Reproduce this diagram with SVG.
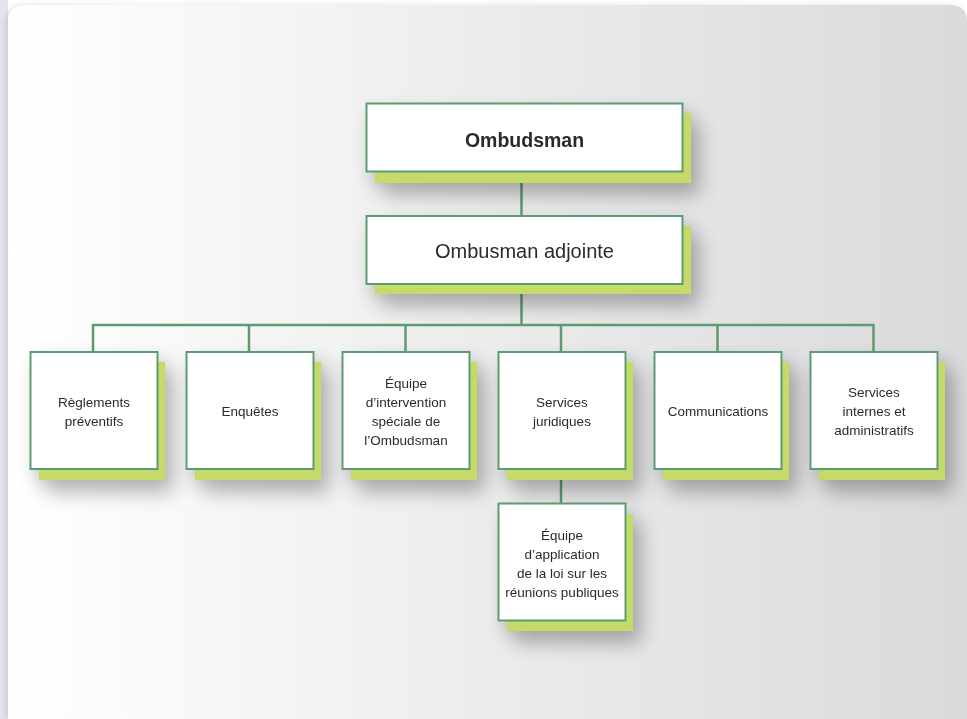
<svg xmlns="http://www.w3.org/2000/svg" width="967" height="719" viewBox="0 0 967 719">
<defs>
<linearGradient id="bg" x1="0" y1="0" x2="1" y2="0">
<stop offset="0" stop-color="#ffffff"/>
<stop offset="0.5" stop-color="#ececed"/>
<stop offset="1" stop-color="#dadadd"/>
</linearGradient>
<filter id="ds" x="-30%" y="-30%" width="170%" height="170%">
<feGaussianBlur in="SourceAlpha" stdDeviation="10"/>
<feOffset dx="8" dy="12"/>
<feComponentTransfer><feFuncA type="linear" slope="0.3"/></feComponentTransfer>
<feMerge><feMergeNode/><feMergeNode in="SourceGraphic"/></feMerge>
</filter>
<filter id="pan" x="-5%" y="-5%" width="110%" height="110%">
<feGaussianBlur in="SourceAlpha" stdDeviation="3"/>
<feOffset dx="-3" dy="0"/>
<feComponentTransfer><feFuncA type="linear" slope="0.12"/></feComponentTransfer>
<feMerge><feMergeNode/><feMergeNode in="SourceGraphic"/></feMerge>
</filter>
</defs>
<style>
.sh{fill:#c5da68;}
.bx{fill:#ffffff;stroke:#5c9c72;stroke-width:2;}
.ln{stroke:#5c9c72;stroke-width:2.5;fill:none;}
.t{font-family:"Liberation Sans",Arial,sans-serif;fill:#2b2b2b;text-anchor:middle;}
.s{font-size:13.5px;}
</style>
<rect width="967" height="719" fill="#ffffff"/>
<rect x="0" y="0" width="8" height="719" fill="#e3e5ef"/>
<path d="M8 24 Q8 5 27 5 L950 5 Q967 5 967 22 L967 719 L8 719 Z" fill="url(#bg)" filter="url(#pan)"/>
<g id="connectors">
<line class="ln" x1="521.5" y1="172" x2="521.5" y2="216"/>
<line class="ln" x1="521.5" y1="284" x2="521.5" y2="325"/>
<polyline class="ln" points="93,352 93,325 873.5,325 873.5,352"/>
<line class="ln" x1="249" y1="325" x2="249" y2="352"/>
<line class="ln" x1="405.5" y1="325" x2="405.5" y2="352"/>
<line class="ln" x1="561" y1="325" x2="561" y2="352"/>
<line class="ln" x1="717.5" y1="325" x2="717.5" y2="352"/>
<line class="ln" x1="561" y1="469" x2="561" y2="503"/>
</g>
<g id="ombudsman" filter="url(#ds)">
<rect class="sh" x="375" y="113" width="316" height="70"/>
<rect class="bx" x="366.5" y="103.5" width="316" height="68"/>
<text class="t" x="524.5" y="147" font-size="19.5" font-weight="bold">Ombudsman</text>
</g>
<g id="adjointe" filter="url(#ds)">
<rect class="sh" x="375" y="226" width="316" height="68"/>
<rect class="bx" x="366.5" y="216" width="316" height="68"/>
<text class="t" x="524.5" y="258" font-size="20">Ombusman adjointe</text>
</g>
<g id="reglements" filter="url(#ds)">
<rect class="sh" x="39" y="362" width="126" height="118"/>
<rect class="bx" x="30.5" y="352" width="127" height="117"/>
<text class="t s" x="94" y="407">Règlements</text>
<text class="t s" x="94" y="426">préventifs</text>
</g>
<g id="enquetes" filter="url(#ds)">
<rect class="sh" x="195" y="362" width="126" height="118"/>
<rect class="bx" x="186.5" y="352" width="127" height="117"/>
<text class="t s" x="250" y="416">Enquêtes</text>
</g>
<g id="equipe-intervention" filter="url(#ds)">
<rect class="sh" x="351" y="362" width="126" height="118"/>
<rect class="bx" x="342.5" y="352" width="127" height="117"/>
<text class="t s" x="406" y="388">Équipe</text>
<text class="t s" x="406" y="407">d’intervention</text>
<text class="t s" x="406" y="426">spéciale de</text>
<text class="t s" x="406" y="445">l’Ombudsman</text>
</g>
<g id="juridiques" filter="url(#ds)">
<rect class="sh" x="507" y="362" width="126" height="118"/>
<rect class="bx" x="498.5" y="352" width="127" height="117"/>
<text class="t s" x="562" y="407">Services</text>
<text class="t s" x="562" y="426">juridiques</text>
</g>
<g id="communications" filter="url(#ds)">
<rect class="sh" x="663" y="362" width="126" height="118"/>
<rect class="bx" x="654.5" y="352" width="127" height="117"/>
<text class="t s" x="718" y="416">Communications</text>
</g>
<g id="internes" filter="url(#ds)">
<rect class="sh" x="819" y="362" width="126" height="118"/>
<rect class="bx" x="810.5" y="352" width="127" height="117"/>
<text class="t s" x="874" y="397">Services</text>
<text class="t s" x="874" y="416">internes et</text>
<text class="t s" x="874" y="435">administratifs</text>
</g>
<g id="equipe-application" filter="url(#ds)">
<rect class="sh" x="507" y="514" width="126" height="117"/>
<rect class="bx" x="498.5" y="503.5" width="127" height="117"/>
<text class="t s" x="562" y="540">Équipe</text>
<text class="t s" x="562" y="559">d’application</text>
<text class="t s" x="562" y="578">de la loi sur les</text>
<text class="t s" x="562" y="597">réunions publiques</text>
</g>
</svg>
